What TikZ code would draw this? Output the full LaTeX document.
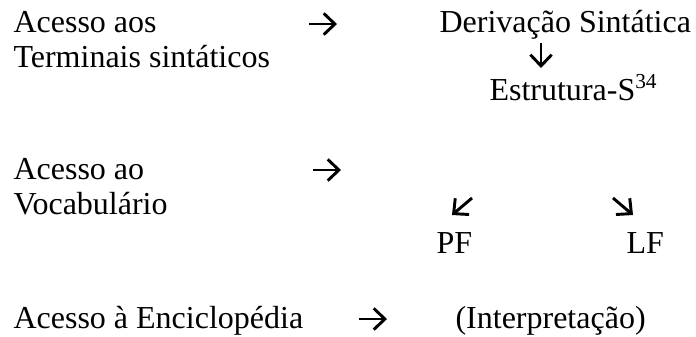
\documentclass[tikz,border=0pt]{standalone}
\usepackage{fontspec}
\setmainfont{Liberation Serif}
\newfontfamily\fonteserif{Liberation Serif}
\usetikzlibrary{arrows.meta}
\tikzset{
  rotulo/.style={anchor=base west,inner sep=0pt,font=\fonteserif\fontsize{12}{14}\selectfont},
  seta/.style={line width=1.1pt,-{Straight Barb[length=4.2pt,width=8pt,line width=1.1pt]}}
}
\begin{document}
\begin{tikzpicture}[x=0.375pt,y=-0.375pt]
\useasboundingbox (0,0) rectangle (696,336);
% 左側の列
\node[rotulo] (acessoTerm) at (13,32) {Acesso aos};
\node[rotulo] (terminais) at (13,67) {Terminais sintáticos};
\node[rotulo] (acessoVoc) at (13,179) {Acesso ao};
\node[rotulo] (vocab) at (13,214) {Vocabulário};
\node[rotulo] (acessoEnc) at (13,328) {Acesso à Enciclopédia};
% 右側の列
\node[rotulo] (derivacao) at (439,32) {Derivação Sintática};
\node[rotulo] (estrutura) at (489,100) {Estrutura-S\textsuperscript{34}};
\node[rotulo] (pf) at (436,253) {PF};
\node[rotulo] (lf) at (626,253) {LF};
\node[rotulo] (interp) at (455,328) {(Interpretação)};
% 矢印
\coordinate (s1a) at (309,24);  \coordinate (s1b) at (337,24);
\coordinate (s2a) at (541,43);  \coordinate (s2b) at (541,68);
\coordinate (s3a) at (313,170); \coordinate (s3b) at (341,170);
\coordinate (s4a) at (472,198); \coordinate (s4b) at (452,215);
\coordinate (s5a) at (613,198); \coordinate (s5b) at (633,215);
\coordinate (s6a) at (359,319); \coordinate (s6b) at (387,319);
\draw[seta] (s1a) -- (s1b);
\draw[seta] (s2a) -- (s2b);
\draw[seta] (s3a) -- (s3b);
\draw[seta] (s4a) -- (s4b);
\draw[seta] (s5a) -- (s5b);
\draw[seta] (s6a) -- (s6b);
\end{tikzpicture}
\end{document}
